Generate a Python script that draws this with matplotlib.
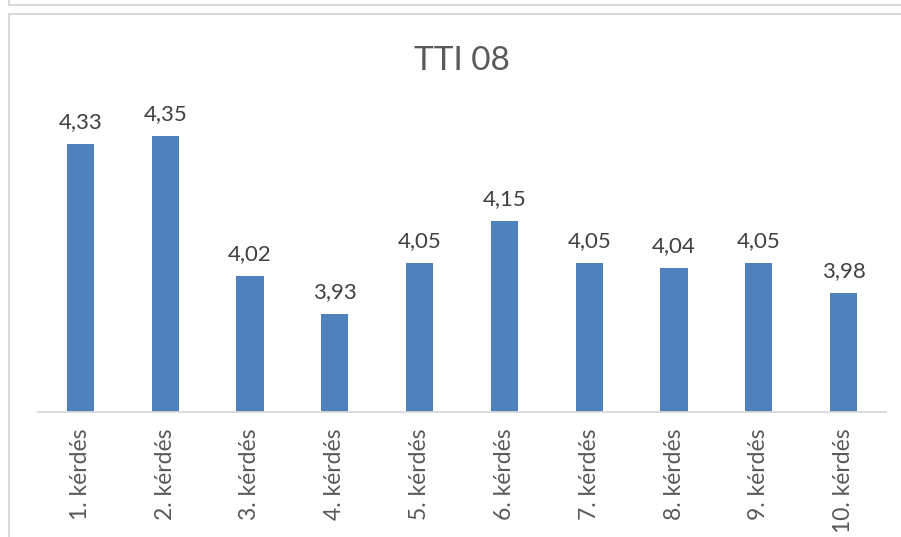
import matplotlib
matplotlib.use("Agg")
import matplotlib.pyplot as plt
from matplotlib.lines import Line2D

categories = ["1. kérdés", "2. kérdés", "3. kérdés", "4. kérdés", "5. kérdés",
              "6. kérdés", "7. kérdés", "8. kérdés", "9. kérdés", "10. kérdés"]
values = [4.33, 4.35, 4.02, 3.93, 4.05, 4.15, 4.05, 4.04, 4.05, 3.98]
title = "TTI 08"

W, H = 901, 537
plt.rcParams['font.family'] = ['Lato', 'DejaVu Sans']
fig = plt.figure(figsize=(W / 100, H / 100), dpi=100)

def fx(px):
    return px / W

def fy(py):
    return 1 - py / H

# frame lines (Excel panel borders)
frame_c = '#D9D9D9'
fig.add_artist(Line2D([fx(8.5), 1], [fy(5), fy(5)], color=frame_c, lw=1.5, transform=fig.transFigure))
fig.add_artist(Line2D([fx(8.5), fx(8.5)], [1, fy(5)], color=frame_c, lw=1.5, transform=fig.transFigure))
fig.add_artist(Line2D([fx(8.5), 1], [fy(13.5), fy(13.5)], color=frame_c, lw=1.5, transform=fig.transFigure))
fig.add_artist(Line2D([fx(8.5), fx(8.5)], [fy(13.5), 0], color=frame_c, lw=1.5, transform=fig.transFigure))

ax = fig.add_axes([fx(38), fy(412), fx(886) - fx(38), fy(72) - fy(412)])
x = list(range(len(categories)))
bars = ax.bar(x, values, width=0.32, color='#4F81BD', zorder=2)
ax.set_xlim(-0.5, len(categories) - 0.5)
ax.set_ylim(3.7, 4.5)

for s in ['top', 'right', 'left']:
    ax.spines[s].set_visible(False)
ax.spines['bottom'].set_color('#D9D9D9')
ax.spines['bottom'].set_linewidth(1.3)
ax.set_yticks([])
ax.set_xticks(x)
ax.set_xticklabels(categories, rotation=90, fontsize=16.5, color='#595959', va='top')
ax.tick_params(axis='x', length=0, pad=12)

for xi, v in zip(x, values):
    ax.annotate(f"{v:.2f}".replace('.', ','), (xi, v), xytext=(0, 8.5),
                textcoords='offset points', ha='center', va='bottom',
                fontsize=16, color='#404040')

fig.text(fx(462), fy(70), title, ha='center', va='baseline', fontsize=24, color='#595959')

fig.savefig('out.png', dpi=100)
